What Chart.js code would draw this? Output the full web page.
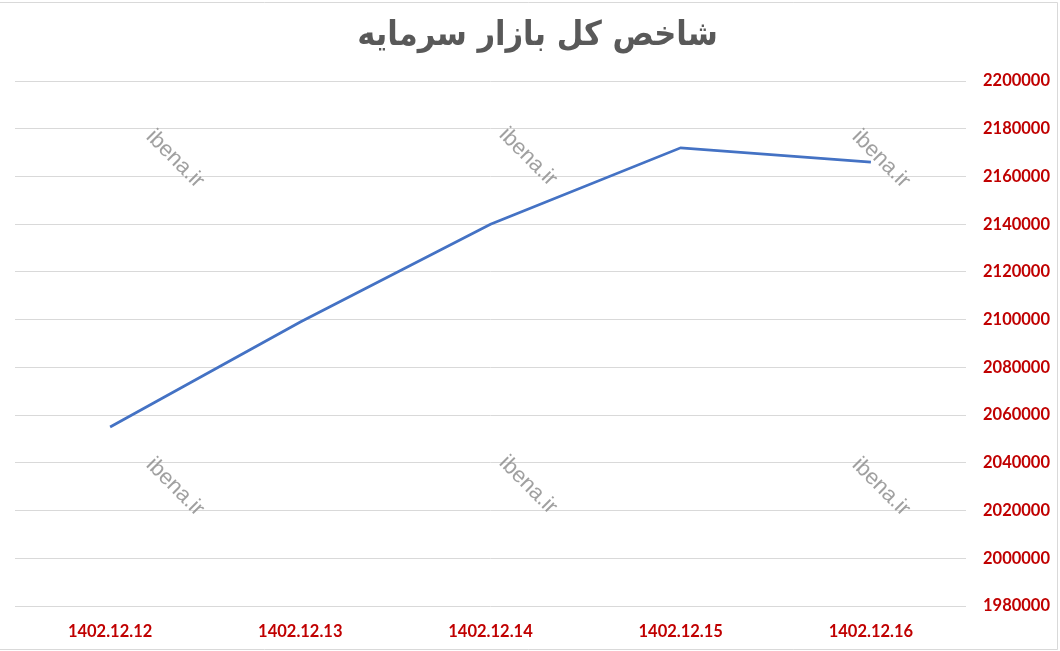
<!DOCTYPE html>
<html>
<head>
<meta charset="utf-8">
<script src="https://cdn.jsdelivr.net/npm/chart.js@4/dist/chart.umd.min.js"></script>
<style>
html,body{margin:0;padding:0;background:#fff;}
#wrap{width:1060px;height:651px;position:relative;}
</style>
</head>
<body>
<div id="wrap"><canvas id="c" width="1060" height="651"></canvas></div>
<script>
const categories = ['1402.12.12','1402.12.13','1402.12.14','1402.12.15','1402.12.16'];
const indexValues = [2055000, 2099000, 2140000, 2172000, 2166000];
const chartTitle = 'شاخص کل بازار سرمایه';
const watermarkText = 'ibena.ir';
const yMin = 1980000, yMax = 2200000, yStep = 20000;

const frame = {
  id: 'frame',
  beforeDraw(chart) {
    const ctx = chart.ctx;
    ctx.save();
    ctx.fillStyle = '#ffffff';
    ctx.fillRect(0, 0, chart.width, chart.height);
    ctx.strokeStyle = '#d9d9d9';
    ctx.lineWidth = 1;
    ctx.beginPath();
    ctx.moveTo(0, 2.5); ctx.lineTo(1057.5, 2.5); ctx.lineTo(1057.5, 649.5); ctx.lineTo(0, 649.5);
    ctx.stroke();
    ctx.restore();
  },
  afterDatasetsDraw(chart) {
    const ctx = chart.ctx;
    const spots = [[175,159],[528,157],[881,159],[175,487],[528,485],[881,487]];
    ctx.save();
    ctx.fillStyle = 'rgba(150,150,150,0.9)';
    ctx.font = '22px "Liberation Sans", Arial, sans-serif';
    ctx.textAlign = 'center';
    ctx.textBaseline = 'middle';
    spots.forEach(([x, y]) => {
      ctx.save();
      ctx.translate(x, y);
      ctx.rotate(Math.PI / 4);
      ctx.fillText(watermarkText, 0, 0);
      ctx.restore();
    });
    ctx.restore();
  }
};

new Chart(document.getElementById('c'), {
  type: 'line',
  data: {
    labels: categories,
    datasets: [{
      data: indexValues,
      borderColor: '#4472C4',
      borderWidth: 2.75,
      pointRadius: 0,
      tension: 0,
      fill: false
    }]
  },
  options: {
    responsive: false,
    animation: false,
    layout: { padding: { left: 15, right: 0, top: 0, bottom: 0 } },
    plugins: {
      legend: { display: false },
      tooltip: { enabled: false },
      title: {
        display: true,
        text: chartTitle,
        color: '#595959',
        font: { family: '"DejaVu Sans Condensed", "DejaVu Sans", sans-serif', size: 34, weight: 'bold', lineHeight: 1.2 },
        padding: { top: 16, bottom: 24.2 }
      }
    },
    scales: {
      x: {
        offset: true,
        grid: { display: false, drawTicks: false },
        border: { display: false },
        ticks: {
          color: '#C00000',
          font: { family: 'Lato, "Open Sans", sans-serif', size: 16.5, weight: 'bold' },
          padding: 16,
          maxRotation: 0
        },
        afterFit(s) { s.height = 45; }
      },
      y: {
        position: 'right',
        min: yMin,
        max: yMax,
        grid: { color: '#d9d9d9', lineWidth: 1, drawTicks: false },
        border: { display: false },
        ticks: {
          stepSize: yStep,
          color: '#C00000',
          font: { family: 'Lato, "Open Sans", sans-serif', size: 16.5, weight: 'bold' },
          padding: 17,
          callback: v => String(v)
        },
        afterFit(s) { s.width = 94; }
      }
    }
  },
  plugins: [frame]
});
</script>
</body>
</html>
